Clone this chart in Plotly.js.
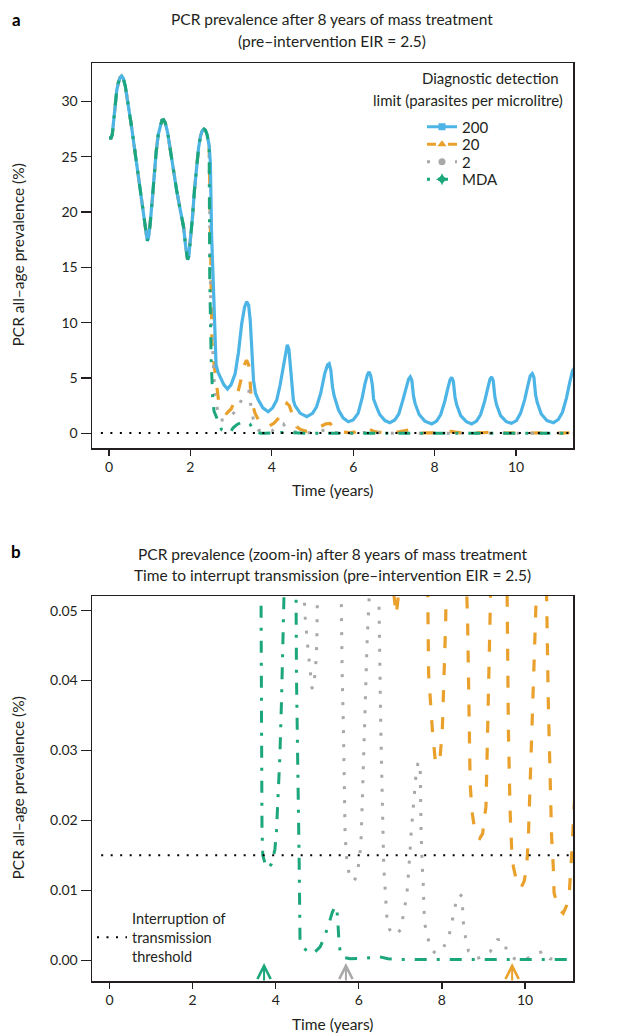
<!DOCTYPE html>
<html><head><meta charset="utf-8">
<script src="https://cdn.plot.ly/plotly-3.0.1.min.js"></script>
<style>html,body{margin:0;padding:0;background:#fff}#chart{width:630px;height:1035px}</style>
</head><body><div id="chart"></div>
<script>
// ---------- data ----------
const seriesNames = ['200', '20', '2', 'MDA'];
const xTicks = [0, 2, 4, 6, 8, 10];
const yTicksA = [0, 5, 10, 15, 20, 25, 30];
const yTicksB = [0, 0.01, 0.02, 0.03, 0.04, 0.05];

// shared pre-intervention prevalence (all diagnostics coincide)
const preTime = [0, 0.05, 0.08, 0.11, 0.15, 0.19, 0.23, 0.27, 0.31, 0.35, 0.4, 0.47, 0.55, 0.64, 0.73, 0.81, 0.87, 0.91, 0.94, 0.97, 1.01, 1.06, 1.11, 1.16, 1.21, 1.26, 1.3, 1.34, 1.38, 1.44, 1.51, 1.58, 1.66, 1.75, 1.83, 1.88, 1.91, 1.93, 1.96, 2.0, 2.05, 2.1, 2.15, 2.2, 2.25, 2.29, 2.33, 2.37, 2.41, 2.44, 2.46];
const prePrev = [26.7, 26.7, 27.0, 28.3, 29.9, 31.0, 31.7, 32.15, 32.3, 32.1, 31.4, 29.8, 27.8, 25.4, 23.0, 20.8, 19.0, 17.9, 17.4, 17.7, 18.9, 21.0, 23.4, 25.5, 27.0, 27.9, 28.3, 28.35, 28.1, 27.2, 25.5, 23.8, 22.0, 20.2, 18.7, 17.0, 16.0, 15.7, 16.0, 17.3, 19.5, 22.0, 24.2, 25.8, 26.9, 27.35, 27.5, 27.4, 27.0, 26.5, 26.0];

const time200 = [2.49, 2.52, 2.56, 2.59, 2.63, 2.68, 2.73, 2.82, 2.91, 3.0, 3.1, 3.18, 3.26, 3.33, 3.38, 3.43, 3.47, 3.51, 3.55, 3.6, 3.67, 3.78, 3.91, 4.02, 4.12, 4.2, 4.28, 4.34, 4.38, 4.42, 4.46, 4.49, 4.53, 4.57, 4.7, 4.86, 5.0, 5.1, 5.2, 5.3, 5.37, 5.41, 5.45, 5.49, 5.53, 5.64, 5.75, 5.88, 6.0, 6.12, 6.22, 6.29, 6.35, 6.39, 6.43, 6.47, 6.5, 6.55, 6.65, 6.78, 6.9,
  7.02, 7.12, 7.22, 7.3, 7.36, 7.4, 7.44, 7.48, 7.52, 7.62, 7.76,
  7.93, 8.05, 8.15, 8.25, 8.32, 8.38, 8.42, 8.46, 8.5, 8.54, 8.64, 8.78,
  8.91, 9.03, 9.13, 9.23, 9.3, 9.36, 9.4, 9.44, 9.48, 9.52, 9.62, 9.76,
  9.89, 10.01, 10.11, 10.21, 10.29, 10.35, 10.4, 10.44, 10.48, 10.52, 10.62, 10.76,
  10.92, 11.04, 11.14, 11.24, 11.32, 11.39, 11.45];
const prev200 = [24.5, 18.0, 13.8, 9.3, 6.2, 5.5, 5.1, 4.4, 4.0, 4.4, 5.4, 7.3, 9.9, 11.4, 11.9, 11.6, 10.2, 7.8, 4.8, 3.6, 3.0, 2.3, 1.95, 2.3, 3.0, 4.3, 6.0, 7.4, 8.0, 7.6, 6.0, 4.2, 3.0, 2.5, 1.8, 1.5, 1.8, 2.4, 3.6, 5.4, 6.2, 6.3, 5.7, 4.2, 3.4, 2.1, 1.4, 1.05, 1.2, 1.8, 3.2, 4.5, 5.3, 5.55, 5.2, 4.4, 3.1, 2.6, 1.7, 1.15, 0.96,
  1.2, 1.75, 3.0, 4.1, 4.9, 5.1, 4.8, 3.4, 2.7, 1.7, 1.1,
  0.84, 1.1, 1.7, 2.9, 4.0, 4.85, 5.06, 4.7, 3.3, 2.6, 1.6, 1.05,
  0.84, 1.1, 1.7, 2.9, 4.0, 4.9, 5.1, 4.75, 3.3, 2.6, 1.6, 1.05,
  0.9, 1.15, 1.8, 3.0, 4.3, 5.2, 5.4, 5.05, 3.5, 2.8, 1.75, 1.15,
  0.96, 1.25, 1.9, 3.2, 4.6, 5.66, 6.0];

const time20 = [2.485, 2.5, 2.53, 2.58, 2.63, 2.69, 2.78, 2.89, 3.0, 3.14, 3.24, 3.3, 3.38, 3.43, 3.46, 3.49, 3.54, 3.59, 3.7, 3.8, 3.91, 4.05, 4.2, 4.3, 4.37, 4.43, 4.49, 4.55, 4.61, 4.7, 4.85, 5.0, 5.18, 5.33, 5.43, 5.5, 5.56, 5.62, 5.75, 5.9, 6.05, 6.2, 6.3, 6.4, 6.5, 6.6, 6.7, 6.8, 6.85, 6.9, 6.95, 7.05, 7.2, 7.35, 7.42, 7.5, 7.58, 7.63, 7.66, 7.67, 7.68, 7.77, 7.84, 7.9, 7.95, 8.01, 8.06, 8.09, 8.1, 8.2, 8.35, 8.42, 8.5, 8.57, 8.6, 8.62, 8.65, 8.68, 8.72, 8.78, 8.84, 8.91, 8.98, 9.06, 9.09, 9.16, 9.17, 9.18, 9.3, 9.38, 9.47, 9.55, 9.57, 9.6, 9.64, 9.68, 9.72, 9.8, 9.9, 9.98, 10.04, 10.08, 10.12, 10.18, 10.25, 10.27, 10.38, 10.46, 10.52, 10.56, 10.6, 10.64, 10.68, 10.7, 10.8, 10.92, 11.0, 11.07, 11.12, 11.2, 11.3, 11.45];
const prev20 = [20, 13.6, 8.2, 6.3, 4.8, 3.0, 2.1, 1.8, 2.2, 3.3, 4.8, 6.0, 6.6, 6.2, 5.1, 3.3, 2.4, 1.8, 1.0, 0.7, 0.6, 0.9, 1.5, 2.3, 2.7, 2.5, 1.8, 1.1, 0.6, 0.35, 0.18, 0.25, 0.6, 0.85, 0.9, 0.6, 0.3, 0.17, 0.09, 0.066, 0.1, 0.3, 0.45, 0.38, 0.18, 0.1, 0.07, 0.057, 0.052, 0.0494, 0.052, 0.07, 0.16, 0.3, 0.33, 0.2, 0.1, 0.06, 0.052, 0.048, 0.041, 0.033, 0.0286, 0.028, 0.0286, 0.033, 0.041, 0.048, 0.052, 0.09, 0.16, 0.17, 0.1, 0.06, 0.052, 0.048, 0.037, 0.0253, 0.0215, 0.019, 0.0177, 0.0174, 0.0181, 0.022, 0.030, 0.0452, 0.049, 0.052, 0.09, 0.11, 0.08, 0.056, 0.052, 0.0329, 0.0215, 0.0158, 0.0134, 0.0112, 0.0103, 0.0113, 0.0134, 0.0174, 0.0253, 0.0368, 0.048, 0.052, 0.08, 0.065, 0.052, 0.037, 0.0253, 0.0177, 0.0134, 0.0096, 0.0074, 0.0067, 0.0078, 0.01, 0.0148, 0.024, 0.04, 0.07];

const time2 = [2.485, 2.5, 2.55, 2.6, 2.65, 2.73, 2.85, 2.97, 3.08, 3.18, 3.3, 3.4, 3.46, 3.48, 3.54, 3.6, 3.67, 3.78, 3.9, 4.0, 4.08, 4.18, 4.28, 4.35, 4.45, 4.55, 4.62, 4.66, 4.68, 4.71, 4.77, 4.83, 4.87, 4.9, 4.92, 4.96, 4.99, 5.02, 5.1, 5.2, 5.3, 5.38, 5.45, 5.52, 5.56, 5.58, 5.6, 5.63, 5.65, 5.67, 5.72, 5.8, 5.88, 5.95, 6.0, 6.05, 6.08, 6.11, 6.14, 6.17, 6.2, 6.25, 6.3, 6.37, 6.42, 6.47, 6.49, 6.51, 6.53, 6.56, 6.575, 6.6, 6.63, 6.65, 6.68, 6.74, 6.81, 6.9, 7.02, 7.07, 7.13, 7.17, 7.2, 7.22, 7.24, 7.26, 7.31, 7.37, 7.42, 7.45, 7.48, 7.5, 7.53, 7.55, 7.57, 7.59, 7.66, 7.74, 7.85, 7.95, 8.03, 8.17, 8.24, 8.3, 8.37, 8.43, 8.49, 8.5, 8.52, 8.57, 8.64, 8.8, 8.88, 9.0, 9.16, 9.33, 9.41, 9.49, 9.57, 9.75, 9.81, 10.0, 10.14, 10.3, 10.44, 10.52, 10.6, 10.8, 11.45];
const prev2 = [16, 11.1, 7.4, 3.5, 2.4, 1.2, 1.2, 1.5, 1.9, 2.3, 3.5, 3.8, 3.8, 2.6, 1.35, 0.7, 0.3, 0.13, 0.1, 0.2, 0.45, 0.7, 0.85, 0.5, 0.2, 0.1, 0.07, 0.055, 0.052, 0.049, 0.045, 0.041, 0.039, 0.0388, 0.0396, 0.0416, 0.0456, 0.052, 0.1, 0.2, 0.3, 0.3, 0.15, 0.08, 0.057, 0.052, 0.041, 0.033, 0.025, 0.018, 0.0135, 0.0118, 0.0113, 0.012, 0.0139, 0.0165, 0.022, 0.028, 0.034, 0.0396, 0.0456, 0.052, 0.07, 0.09, 0.08, 0.058, 0.052, 0.041, 0.033, 0.025, 0.0174, 0.0134, 0.0105, 0.008, 0.0057, 0.0044, 0.0038, 0.0036, 0.0045, 0.0065, 0.0084, 0.0103, 0.0123, 0.0143, 0.0162, 0.0182, 0.022, 0.0261, 0.0281, 0.0284, 0.0268, 0.018, 0.013, 0.011, 0.0071, 0.0051, 0.0032, 0.0015, 0.001, 0.0012, 0.0017, 0.0035, 0.0054, 0.0073, 0.0092, 0.0094, 0.0091, 0.0071, 0.0051, 0.0032, 0.0013, 0.0003, 0.0003, 0.0006, 0.0012, 0.0029, 0.003, 0.0029, 0.0011, 0.0002, 0.0001, 0.0002, 0.0004, 0.0009, 0.0013, 0.0008, 0.0002, 0.0001, 0.0001];

const timeMDA = [2.475, 2.49, 2.51, 2.53, 2.55, 2.58, 2.65, 2.72, 2.77, 2.85, 2.92, 3.0, 3.05, 3.15, 3.26, 3.38, 3.46, 3.5, 3.55, 3.6, 3.64, 3.65, 3.66, 3.67, 3.69, 3.74, 3.82, 3.9, 3.98, 4.02, 4.06, 4.1, 4.14, 4.18, 4.21, 4.28, 4.35, 4.42, 4.49, 4.5, 4.53, 4.56, 4.565, 4.585, 4.65, 4.81, 4.95, 5.07, 5.17, 5.27, 5.36, 5.43, 5.47, 5.5, 5.53, 5.58, 5.64, 5.8, 5.95, 6.19, 6.49, 6.7, 7.0, 11.45];
const prevMDA = [14, 8.4, 6.6, 4.8, 3.0, 2.0, 1.35, 0.6, 0.3, 0.12, 0.08, 0.2, 0.5, 0.8, 1.0, 0.95, 0.85, 0.6, 0.3, 0.12, 0.06, 0.052, 0.035, 0.0186, 0.015, 0.0139, 0.0131, 0.0138, 0.0158, 0.0186, 0.0239, 0.0291, 0.0372, 0.0453, 0.052, 0.08, 0.09, 0.075, 0.052, 0.0406, 0.03, 0.0186, 0.0139, 0.0029, 0.0019, 0.001, 0.0012, 0.0019, 0.0033, 0.005, 0.0068, 0.0077, 0.0075, 0.005, 0.002, 0.0006, 0.0004, 0.0002, 0.0002, 0.0003, 0.0005, 0.0002, 0.0001, 0.0001];

const thresholdTime = [-0.2, 11.5];
const thresholdPrev = [0.015, 0.015];
const interruptTime = [3.72, 5.69, 9.69];   // MDA, 2, 20

// ---------- styling ----------
const FONT = "Lato, 'Open Sans', sans-serif";
const INK = '#231f20';
const style = {
  '200': {color: '#4db4e6', width: 3.2, dash: 'solid', sym: 'square', lgDash: 'solid', ms: 7},
  '20':  {color: '#e9a12c', width: 3.2, dash: '12px,15px', sym: 'triangle-up', lgDash: '9px,12px', ms: 8},
  '2':   {color: '#a8a8a8', width: 3, dash: '3px,11px', sym: 'circle', lgDash: '3px,11px', ms: 7},
  'MDA': {color: '#1ba67b', width: 3, dash: '12px,10px,3px,10px', sym: 'star-diamond', lgDash: '3px,8px,10px,20px', ms: 9}
};
const seriesData = {
  '200': [preTime.concat(time200), prePrev.concat(prev200)],
  '20':  [preTime.concat(time20), prePrev.concat(prev20)],
  '2':   [preTime.concat(time2), prePrev.concat(prev2)],
  'MDA': [preTime.concat(timeMDA), prePrev.concat(prevMDA)]
};

// plot area in pixels
const L = 92, R = 573, T = 63, B = 981;
const px = p => (p - L) / (R - L);
const py = p => (B - p) / (B - T);

const traces = [];
const drawOrder = ['20', '2', '200', 'MDA'];
[['x', 'y'], ['x2', 'y2']].forEach(([xa, ya]) => {
  drawOrder.forEach(n => {
    const s = style[n];
    traces.push({
      type: 'scatter', mode: 'lines', x: seriesData[n][0], y: seriesData[n][1],
      xaxis: xa, yaxis: ya, showlegend: false, hoverinfo: 'skip',
      line: {color: s.color, width: s.width, dash: s.dash}
    });
  });
  traces.push({
    type: 'scatter', mode: 'lines', x: thresholdTime, y: thresholdPrev,
    xaxis: xa, yaxis: ya, hoverinfo: 'skip',
    name: 'Interruption of<br>transmission<br>threshold',
    showlegend: xa === 'x2', legend: 'legend5',
    line: {color: '#000', width: 2, dash: '2px,7.5px'}
  });
});
// legend entries for panel a
const legendRowsY = [127, 144.5, 162, 179.5];
seriesNames.forEach((n, i) => {
  const s = style[n];
  traces.push({
    type: 'scatter', mode: 'lines+markers', x: [null], y: [null], xaxis: 'x', yaxis: 'y',
    name: n, legend: i === 0 ? 'legend' : 'legend' + (i + 1), showlegend: true,
    line: {color: s.color, width: s.width, dash: s.lgDash},
    marker: {color: s.color, symbol: s.sym, size: s.ms}
  });
});

const legendBase = {
  bgcolor: 'rgba(0,0,0,0)', borderwidth: 0, xanchor: 'left', yanchor: 'middle',
  font: {family: FONT, size: 15, color: INK}, itemclick: false, itemdoubleclick: false
};
const layout = {
  width: 630, height: 1035, paper_bgcolor: '#fff', plot_bgcolor: '#fff',
  margin: {l: L, r: 630 - R, t: T, b: 1035 - B, pad: 0},
  font: {family: FONT, size: 14, color: INK},
  xaxis: {domain: [0, 1], anchor: 'y', range: [-0.418, 11.40]},
  yaxis: {domain: [py(448), 1], anchor: 'x', range: [-1.33, 33.48], tickvals: yTicksA},
  xaxis2: {domain: [0, 1], anchor: 'y2', range: [-0.421, 11.155]},
  yaxis2: {domain: [0, py(596)], anchor: 'x2', range: [-0.00298, 0.0521], tickvals: yTicksB, tickformat: '.2f'},
  annotations: [],
  showlegend: true
};
['xaxis', 'xaxis2'].forEach(k => Object.assign(layout[k], {
  tickvals: xTicks, ticks: 'outside', ticklen: 6, tickwidth: 1.2, tickcolor: INK,
  showline: true, mirror: true, linecolor: INK, linewidth: 1.5, showgrid: false, zeroline: false,
  tickfont: {family: FONT, size: 14, color: INK}
}));
['yaxis', 'yaxis2'].forEach(k => Object.assign(layout[k], {
  ticks: 'outside', ticklen: 10, tickwidth: 1.2, tickcolor: INK,
  showline: true, mirror: true, linecolor: INK, linewidth: 1.5, showgrid: false, zeroline: false,
  tickfont: {family: FONT, size: 14, color: INK}
}));
legendRowsY.forEach((yy, i) => {
  layout[i === 0 ? 'legend' : 'legend' + (i + 1)] = Object.assign({}, legendBase, {x: px(422), y: py(yy)});
});
layout.legend5 = Object.assign({}, legendBase, {x: px(92), y: py(937.5), font: {family: FONT, size: 14.5, color: INK}});

function txt(text, x, y, opts) {
  layout.annotations.push(Object.assign({
    text: text, xref: 'paper', yref: 'paper', x: px(x), y: py(y),
    xanchor: 'center', yanchor: 'middle', showarrow: false,
    font: {family: FONT, size: 15.5, color: INK}
  }, opts || {}));
}
txt('<b>a</b>', 16, 19, {font: {family: FONT, size: 17, color: '#000'}});
txt('PCR prevalence after 8 years of mass treatment', 332, 19);
txt('(pre–intervention EIR = 2.5)', 332, 40.5);
txt('<b>b</b>', 16, 551, {font: {family: FONT, size: 17, color: '#000'}});
txt('PCR prevalence (zoom-in) after 8 years of mass treatment', 332, 554);
txt('Time to interrupt transmission (pre–intervention EIR = 2.5)', 332, 575);
txt('PCR all–age prevalence (%)', 18, 255.5, {textangle: -90});
txt('PCR all–age prevalence (%)', 18, 788.5, {textangle: -90});
txt('Time (years)', 332, 490);
txt('Time (years)', 332, 1024);
txt('Diagnostic detection', 561, 77.7, {xanchor: 'right', font: {family: FONT, size: 15, color: INK}});
txt('limit (parasites per microlitre)', 565, 100, {xanchor: 'right', font: {family: FONT, size: 15, color: INK}});

const arrowColors = [style['MDA'].color, style['2'].color, style['20'].color];
interruptTime.forEach((t, i) => {
  layout.annotations.push({
    xref: 'x2', yref: 'y2', x: t, y: -0.0004, text: '', showarrow: true,
    ax: 0, ay: 19, arrowcolor: arrowColors[i], arrowwidth: 2, arrowhead: 5, arrowsize: 1.3
  });
});

Plotly.newPlot('chart', traces, layout, {staticPlot: true, displayModeBar: false});
</script></body></html>
